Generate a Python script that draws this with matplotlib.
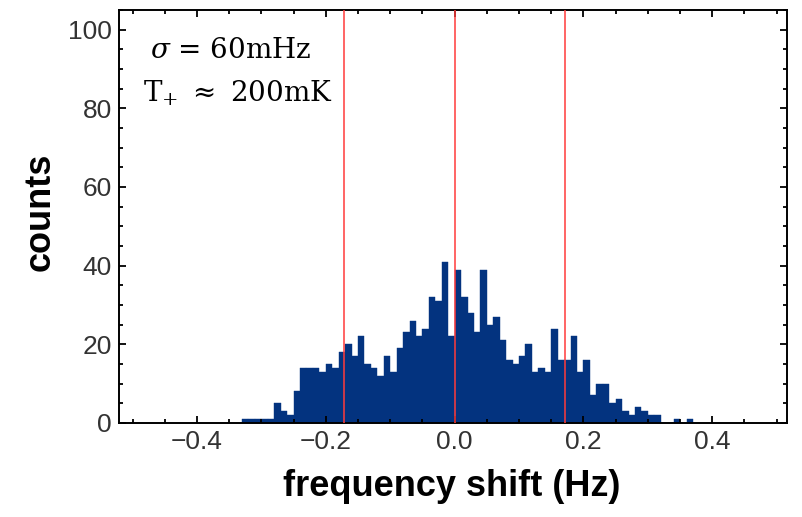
import matplotlib.pyplot as plt
from matplotlib.ticker import MultipleLocator

# histogram bins (left edges, width 0.01 Hz) and counts
bin_left = [round(-0.33 + 0.01 * i, 2) for i in range(70)]
counts = [1, 1, 1, 1, 1, 5, 3, 2, 8, 14,
          14, 14, 13, 15, 14, 18, 20, 17, 22, 15,
          14, 12, 17, 13, 19, 23, 26, 22, 24, 32,
          31, 41, 22, 39, 32, 28, 23, 39, 25, 27,
          21, 16, 15, 17, 20, 13, 14, 13, 24, 16,
          16, 22, 13, 16, 7, 10, 10, 5, 6, 3,
          2, 4, 3, 2, 2, 0, 0, 1, 0, 1]
red_lines = [-0.172, 0.0, 0.172]
x_ticks = [-0.4, -0.2, 0.0, 0.2, 0.4]
y_ticks = [0, 20, 40, 60, 80, 100]

plt.rcParams['font.family'] = ['Liberation Sans', 'DejaVu Sans']
plt.rcParams['mathtext.fontset'] = 'dejavuserif'

fig = plt.figure(figsize=(8.02, 5.17), dpi=100)
ax = fig.add_axes([0.1484, 0.182, 0.8329, 0.7987])

ax.bar(bin_left, counts, width=0.01, align='edge', color='#03337f',
       edgecolor='#03337f', linewidth=0.3)
for xv in red_lines:
    ax.axvline(xv, color='#ff3b3b', lw=1.1, zorder=3)

ax.set_xlim(-0.521, 0.516)
ax.set_ylim(0, 105)
ax.set_xticks(x_ticks)
ax.set_xticklabels(['\u22120.4', '\u22120.2', '0.0', '0.2', '0.4'])
ax.set_yticks(y_ticks)
ax.xaxis.set_minor_locator(MultipleLocator(0.05))
ax.yaxis.set_minor_locator(MultipleLocator(5))
ax.tick_params(which='both', direction='in', top=True, right=True,
               colors='black', labelcolor='#333333', labelsize=19, width=1.3)
ax.tick_params(which='major', length=5, pad=5)
ax.tick_params(which='minor', length=3)
for s in ax.spines.values():
    s.set_linewidth(1.4)

ax.set_xlabel('frequency shift (Hz)', fontsize=26, fontweight='bold', va='center')
ax.xaxis.set_label_coords(0.4985, -0.155)
ax.set_ylabel('counts', fontsize=26, fontweight='bold', va='center')
ax.yaxis.set_label_coords(-0.118, 0.511)

ax.text(0.046, 0.903, r'$\sigma$ = 60mHz', transform=ax.transAxes,
        fontsize=20, family='DejaVu Serif', ha='left', va='center')
ax.text(0.036, 0.799, r'$\mathrm{T}_{+}$ $\approx$ 200mK', transform=ax.transAxes,
        fontsize=20, family='DejaVu Serif', ha='left', va='center')

fig.savefig('out.png', dpi=100)
